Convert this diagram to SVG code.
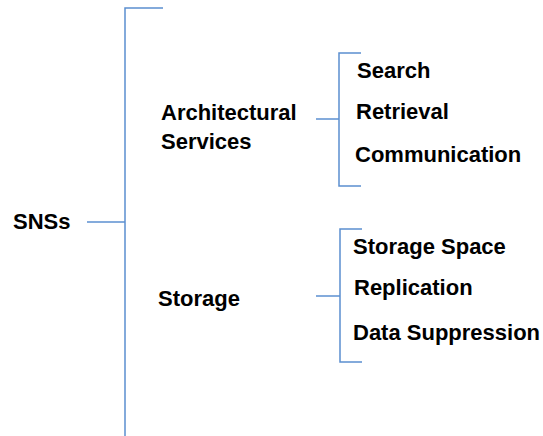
<svg xmlns="http://www.w3.org/2000/svg" width="543" height="436" viewBox="0 0 543 436">
<style>
.t{font-family:"Liberation Sans",Arial,sans-serif;font-weight:bold;font-size:22px;fill:#000}
.c{fill:none;stroke:#5b8fd0;stroke-width:1.5}
</style>
<rect width="543" height="436" fill="#fff"/>
<g id="connectors">
<polyline class="c" points="163,8 125,8 125,436"/>
<line class="c" x1="87" y1="222" x2="125" y2="222"/>
<polyline class="c" points="361,53 339,53 339,186 361,186"/>
<line class="c" x1="316" y1="119" x2="339" y2="119"/>
<polyline class="c" points="362,229 340,229 340,362 362,362"/>
<line class="c" x1="316" y1="296" x2="340" y2="296"/>
</g>
<g id="sns"><text class="t" x="13" y="229">SNSs</text></g>
<g id="arch"><text class="t" x="161" y="120">Architectural</text><text class="t" x="161" y="149">Services</text></g>
<g id="storage"><text class="t" x="158" y="306">Storage</text></g>
<g id="search"><text class="t" x="357" y="78">Search</text></g>
<g id="retrieval"><text class="t" x="356" y="119">Retrieval</text></g>
<g id="communication"><text class="t" x="355" y="162">Communication</text></g>
<g id="storagespace"><text class="t" x="353" y="254">Storage Space</text></g>
<g id="replication"><text class="t" x="354" y="295">Replication</text></g>
<g id="datasuppression"><text class="t" x="353" y="340">Data Suppression</text></g>
</svg>
